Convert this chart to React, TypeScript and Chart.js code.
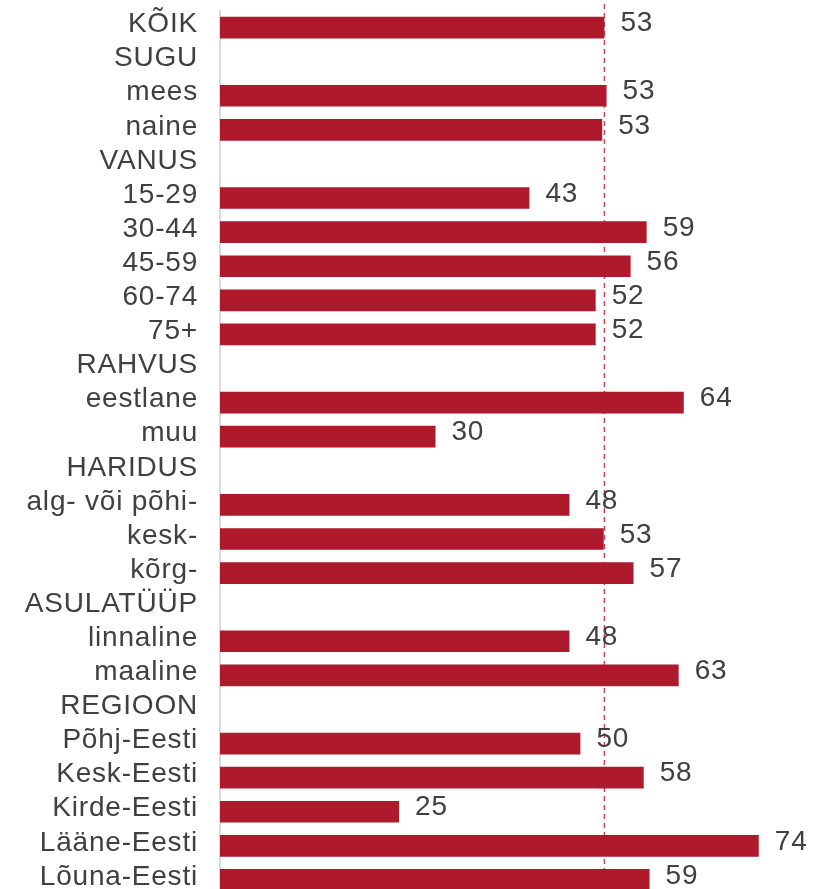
import React, { useEffect, useRef } from 'react';
import { Chart, registerables } from 'chart.js';

Chart.register(...registerables);

const categories = [
  'KÕIK', 'SUGU', 'mees', 'naine', 'VANUS', '15-29', '30-44', '45-59', '60-74', '75+',
  'RAHVUS', 'eestlane', 'muu', 'HARIDUS', 'alg- või põhi-', 'kesk-', 'kõrg-',
  'ASULATÜÜP', 'linnaline', 'maaline', 'REGIOON', 'Põhj-Eesti', 'Kesk-Eesti',
  'Kirde-Eesti', 'Lääne-Eesti', 'Lõuna-Eesti',
];

const values: (number | null)[] = [
  52.8, null, 53.1, 52.5, null, 42.5, 58.6, 56.4, 51.6, 51.6,
  null, 63.7, 29.6, null, 48.0, 52.7, 56.8,
  null, 48.0, 63.0, null, 49.5, 58.2,
  24.6, 74.0, 59.0,
];

const referenceValue = 52.8;
const xMin = 0;
const xMax = 82;

const BAR_COLOR = '#ae192c';
const TEXT_COLOR = '#404040';
const FONT_FAMILY = '"Liberation Sans", Arial, Helvetica, sans-serif';
const LETTER_SPACING = '0.8px';

const spacingPlugin = {
  id: 'letterSpacing',
  beforeDraw(chart: any) {
    (chart.ctx as any).letterSpacing = LETTER_SPACING;
  },
};

const refLinePlugin = {
  id: 'refLine',
  beforeDatasetsDraw(chart: any) {
    const { ctx, scales } = chart;
    const x = scales.x.getPixelForValue(referenceValue);
    ctx.save();
    ctx.strokeStyle = '#c4495b';
    ctx.lineWidth = 1.5;
    ctx.setLineDash([5, 4]);
    ctx.beginPath();
    ctx.moveTo(x, 4);
    ctx.lineTo(x, chart.height);
    ctx.stroke();
    ctx.restore();
  },
};

const valueLabelPlugin = {
  id: 'valueLabels',
  afterDatasetsDraw(chart: any) {
    const { ctx } = chart;
    const meta = chart.getDatasetMeta(0);
    ctx.save();
    (ctx as any).letterSpacing = LETTER_SPACING;
    ctx.fillStyle = TEXT_COLOR;
    ctx.font = `28px ${FONT_FAMILY}`;
    ctx.textAlign = 'left';
    ctx.textBaseline = 'middle';
    meta.data.forEach((el: any, i: number) => {
      const v = values[i];
      if (v === null || v === undefined) return;
      ctx.fillText(String(Math.round(v)), el.x + 16, el.y - 4);
    });
    ctx.restore();
  },
};

export default function App() {
  const canvasRef = useRef<HTMLCanvasElement | null>(null);

  useEffect(() => {
    if (!canvasRef.current) return;
    const chart = new Chart(canvasRef.current, {
      type: 'bar',
      data: {
        labels: categories,
        datasets: [
          {
            data: values as any,
            backgroundColor: BAR_COLOR,
            borderWidth: 0,
            barPercentage: 0.636,
            categoryPercentage: 1,
          },
        ],
      },
      options: {
        indexAxis: 'y',
        responsive: false,
        animation: false,
        layout: { padding: { top: 10.5, right: 1, bottom: 0, left: 0 } },
        plugins: {
          legend: { display: false },
          tooltip: { enabled: false },
        },
        scales: {
          x: {
            display: false,
            min: xMin,
            max: xMax,
          },
          y: {
            type: 'category',
            grid: { display: false, drawTicks: false },
            border: { display: true, color: '#dadada', width: 2 },
            ticks: {
              color: TEXT_COLOR,
              font: { size: 28, family: FONT_FAMILY },
              padding: 22,
              labelOffset: -3,
              autoSkip: false,
            },
            afterFit: (scale: any) => {
              scale.width = 220;
              scale.paddingTop = 0;
              scale.paddingBottom = 0;
            },
          },
        },
      },
      plugins: [spacingPlugin, refLinePlugin, valueLabelPlugin],
    });
    return () => chart.destroy();
  }, []);

  return (
    <div style={{ position: 'absolute', left: 0, top: 0, width: 818, height: 897 }}>
      <canvas ref={canvasRef} width={818} height={897} />
    </div>
  );
}
